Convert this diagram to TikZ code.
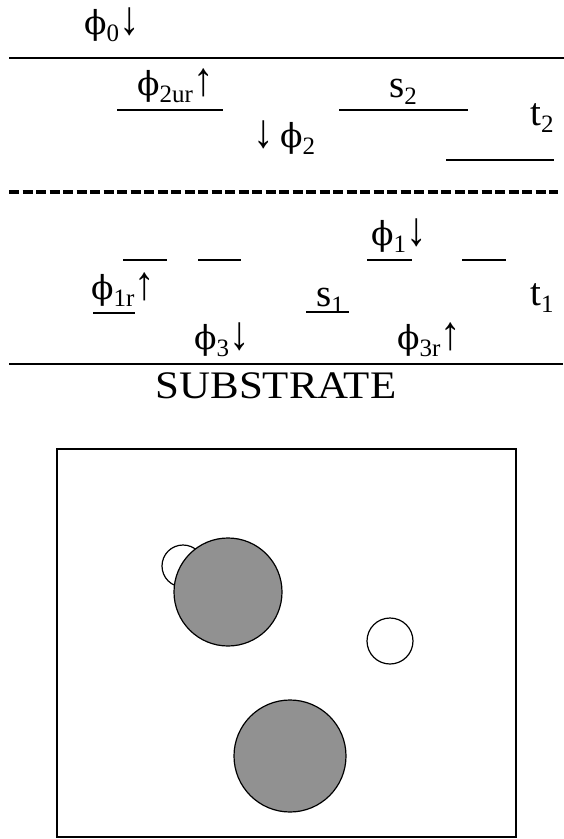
\documentclass[tikz,border=0pt]{standalone}
\usepackage{fontspec}
\setmainfont{Liberation Serif}
\newfontfamily\phifont{DejaVu Serif}
\definecolor{dotgray}{HTML}{919191}
\newcommand\ph{{\phifont\fontsize{33}{40}\selectfont\symbol{"03D5}}}
\newcommand\sbs[1]{\raisebox{-7pt}{\fontsize{25}{28}\selectfont #1}}
\newcommand\arrup{\smash{\scalebox{1.05}[1.22]{\symbol{"2191}}}}
\newcommand\arrdn{\smash{\scalebox{1.05}[1.22]{\symbol{"2193}}}}
\tikzset{
  lbl/.style={inner sep=0pt, anchor=base west, font=\fontsize{39}{44}\selectfont},
  thinline/.style={line width=1.5pt},
  layerline/.style={line width=2pt},
  dashline/.style={line width=3.5pt, dash pattern=on 10pt off 3.5pt},
  hole/.style={draw, line width=1.2pt, fill=white},
  particle/.style={draw, line width=1.2pt, fill=dotgray},
}
\begin{document}
\begin{tikzpicture}[x=1pt,y=-1pt]
\useasboundingbox (0,0) rectangle (564,839);
% layer lines
\coordinate (topL) at (9,58); \coordinate (topR) at (564,58);
\draw[layerline] (topL) -- (topR);
\coordinate (dashL) at (9,192); \coordinate (dashR) at (558,192);
\draw[dashline] (dashL) -- (dashR);
\coordinate (botL) at (9,364); \coordinate (botR) at (563,364);
\draw[layerline] (botL) -- (botR);
% labels
\node[lbl] (phi0) at (84,34) {\ph\sbs{0}\arrdn};
\node[lbl] (phi2ur) at (137,95) {\ph\sbs{2ur}\arrup};
\node[lbl] (s2) at (389,97) {s\sbs{2}};
\node[lbl] (phi2) at (253,147) {\arrdn\,\ph\sbs{2}};
\node[lbl] (t2) at (530,125) {t\sbs{2}};
\node[lbl] (phi1) at (371,245) {\ph\sbs{1}\arrdn};
\node[lbl] (phi1r) at (91,299) {\ph\sbs{1r}\arrup};
\node[lbl] (s1) at (316,306) {s\sbs{1}};
\node[lbl] (t1) at (530,305) {t\sbs{1}};
\node[lbl] (phi3) at (194,349) {\ph\sbs{3}\arrdn};
\node[lbl] (phi3r) at (397,349) {\ph\sbs{3r}\arrup};
\node[lbl, anchor=base] (sub) at (276,398) {\scalebox{1.1}[1]{SUBSTRATE}};
% short lines
\coordinate (a1) at (117,110); \coordinate (a2) at (223,110);
\draw[thinline] (a1) -- (a2);
\coordinate (b1) at (339,110); \coordinate (b2) at (468,110);
\draw[thinline] (b1) -- (b2);
\coordinate (c1) at (446,160); \coordinate (c2) at (554,160);
\draw[thinline] (c1) -- (c2);
\coordinate (d1) at (123,260); \coordinate (d2) at (167,260);
\draw[thinline] (d1) -- (d2);
\coordinate (e1) at (198,260); \coordinate (e2) at (241,260);
\draw[thinline] (e1) -- (e2);
\coordinate (f1) at (367,260); \coordinate (f2) at (412,260);
\draw[thinline] (f1) -- (f2);
\coordinate (g1) at (462,260); \coordinate (g2) at (506,260);
\draw[thinline] (g1) -- (g2);
\coordinate (h1) at (93,313); \coordinate (h2) at (135,313);
\draw[thinline] (h1) -- (h2);
\coordinate (i1) at (306,312); \coordinate (i2) at (349,312);
\draw[thinline] (i1) -- (i2);
% plan view
\draw[line width=2pt] (57,449) rectangle (516,837);
\draw[hole] (183,566) circle (21);
\draw[particle] (228,592) circle (54);
\draw[hole] (390,641) circle (23);
\draw[particle] (290,756) circle (56);
\end{tikzpicture}
\end{document}
